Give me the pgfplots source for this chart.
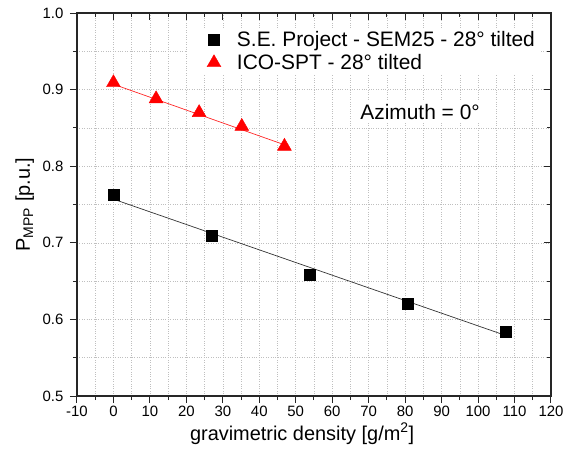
\documentclass[border=0pt]{standalone}
\usepackage{fontspec}
\setmainfont{Liberation Sans}
\usepackage{pgfplots}
\pgfplotsset{compat=1.18}
\pgfplotsset{marklegend/.style={legend image code/.code={
    \path[draw=none, fill=none] (0bp,0bp) -- (45bp,0bp);
    \draw[##1] plot[only marks] coordinates {(24bp,0bp)};}}}

\begin{document}
\begin{tikzpicture}
\begin{axis}[
    scale only axis,
    width=474bp, height=383bp,
    xmin=-10, xmax=120, ymin=0.5, ymax=1.0,
    xtick distance=10, ytick distance=0.1,
    minor x tick num=1, minor y tick num=1,
    xtick pos=left, ytick pos=left,
    tick align=outside,
    major tick length=7bp, minor tick length=4bp,
    grid=both,
    major grid style={gray!50, dotted, line width=0.6pt},
    minor grid style={gray!50, dotted, line width=0.6pt},
    axis line style={line width=1.2bp, black!85},
    tick style={line width=1bp, black!85},
    /pgf/number format/assume math mode=true,
    yticklabel style={/pgf/number format/fixed, /pgf/number format/fixed zerofill,
                      /pgf/number format/precision=1, xshift=-3bp},
    tick label style={font=\fontsize{15}{18}\selectfont},
    label style={font=\fontsize{20}{24}\selectfont},
    xlabel={gravimetric density [g/m\textsuperscript{2}]},
    ylabel={P\textsubscript{MPP} [p.u.]},
    xlabel style={at={(axis description cs:0.475,-0.098)}, anchor=center},
    ylabel style={at={(axis description cs:-0.11,0.5)}, anchor=center},
    legend style={at={(0.977,0.962)}, anchor=north east, draw=none, fill=white,
                  inner xsep=3bp, inner ysep=2bp, row sep=2bp,
                  font=\fontsize{21}{25}\selectfont, cells={anchor=west}},
    clip=false,
]
% fitted lines
\addplot[black!80, line width=0.7pt, forget plot]
  coordinates {(0,0.757) (107.6,0.579)};
\addplot[red!85, line width=0.7pt, forget plot]
  coordinates {(0,0.907) (46.9,0.828)};

\addplot[only marks, mark=square*, mark size=5.5bp, black, marklegend]
  coordinates {(0,0.763) (26.9,0.709) (53.8,0.658) (80.7,0.620) (107.6,0.584)};
\addlegendentry{S.E. Project - SEM25 - 28° tilted}
\addplot[only marks, mark=triangle*, mark size=8bp, red, marklegend]
  coordinates {(0,0.909) (11.7,0.888) (23.5,0.870) (35.2,0.852) (46.9,0.826)};
\addlegendentry{ICO-SPT - 28° tilted}

\node[fill=white, inner sep=2bp, font=\fontsize{21}{25}\selectfont]
  at (axis cs:84.1,0.871) {Azimuth = 0°};

% page size
\path (rel axis cs:-0.1624,-0.154) rectangle (rel axis cs:1.0549,1.034);
\end{axis}
% top and right ticks point inwards
\begin{axis}[
    scale only axis,
    width=474bp, height=383bp,
    xmin=-10, xmax=120, ymin=0.5, ymax=1.0,
    xtick distance=10, ytick distance=0.1,
    minor x tick num=1, minor y tick num=1,
    xtick pos=right, ytick pos=right,
    tick align=inside,
    major tick length=7bp, minor tick length=4bp,
    xticklabels={}, yticklabels={},
    axis line style={draw=none},
    tick style={line width=1bp, black!85},
]
\end{axis}
\end{tikzpicture}
\end{document}
